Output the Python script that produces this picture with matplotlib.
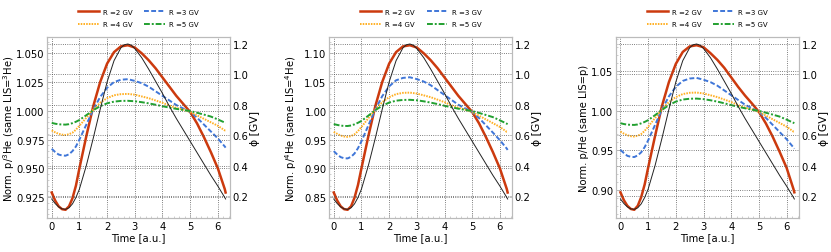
import numpy as np
from matplotlib import pyplot as plt

# time grid [a.u.]
t = [0.0, 0.125, 0.25, 0.375, 0.5, 0.625, 0.75, 0.875, 1.0, 1.25, 1.5, 1.75,
     2.0, 2.25, 2.5, 2.75, 3.0, 3.25, 3.5, 3.75, 4.0, 4.25, 4.5, 4.75, 5.0,
     5.25, 5.5, 5.75, 6.0, 6.25, 6.28]

# modulation potential (right axis, same in all panels)
t_phi = [0.0, 0.125, 0.25, 0.375, 0.5, 0.625, 0.75, 0.875, 1.0, 1.25, 1.5,
         1.75, 2.0, 2.25, 2.5, 2.625, 2.75, 2.875, 3.0, 3.25, 3.5, 3.75, 4.0,
         4.25, 4.5, 4.75, 5.0, 5.25, 5.5, 5.75, 6.0, 6.25, 6.28]
phi = [0.18, 0.15, 0.128, 0.115, 0.112, 0.122, 0.148, 0.19, 0.245, 0.40,
       0.58, 0.77, 0.95, 1.09, 1.175, 1.195, 1.20, 1.192, 1.17, 1.11, 1.035,
       0.955, 0.875, 0.79, 0.71, 0.635, 0.56, 0.485, 0.41, 0.335, 0.265,
       0.19, 0.18]

# p/3He
he3_r2 = [0.929, 0.922, 0.917, 0.9145, 0.914, 0.917, 0.924, 0.935, 0.950,
          0.978, 1.004, 1.025, 1.041, 1.051, 1.056, 1.057, 1.055, 1.050,
          1.044, 1.037, 1.029, 1.021, 1.013, 1.006, 0.999, 0.989, 0.977,
          0.964, 0.950, 0.932, 0.929]
he3_r3 = [0.967, 0.9642, 0.962, 0.9612, 0.961, 0.9622, 0.965, 0.969, 0.975,
          0.988, 1.001, 1.012, 1.020, 1.025, 1.027, 1.0275, 1.026, 1.024,
          1.021, 1.017, 1.013, 1.009, 1.005, 1.002, 0.999, 0.994, 0.988,
          0.982, 0.976, 0.969, 0.968]
he3_r4 = [0.983, 0.9813, 0.980, 0.9793, 0.979, 0.9797, 0.981, 0.9836, 0.987,
          0.994, 1.001, 1.007, 1.011, 1.0135, 1.0145, 1.0147, 1.014, 1.0125,
          1.011, 1.009, 1.007, 1.0045, 1.0025, 1.001, 0.999, 0.996, 0.993,
          0.990, 0.987, 0.983, 0.983]
he3_r5 = [0.9895, 0.9888, 0.9883, 0.9881, 0.988, 0.9884, 0.9893, 0.9905,
          0.992, 0.9962, 1.0005, 1.004, 1.0065, 1.008, 1.0086, 1.0087,
          1.0083, 1.0075, 1.0065, 1.0053, 1.004, 1.0028, 1.0017, 1.0007,
          0.9998, 0.9983, 0.9967, 0.995, 0.9925, 0.9898, 0.9895]

# p/4He
he4_r2 = [0.858, 0.844, 0.834, 0.829, 0.828, 0.834, 0.849, 0.871, 0.900,
          0.956, 1.008, 1.050, 1.082, 1.102, 1.112, 1.114, 1.110, 1.100,
          1.088, 1.074, 1.058, 1.042, 1.026, 1.012, 0.998, 0.978, 0.954,
          0.928, 0.900, 0.864, 0.858]
he4_r3 = [0.930, 0.924, 0.9195, 0.9175, 0.9173, 0.920, 0.9258, 0.935, 0.947,
          0.9746, 1.002, 1.0254, 1.0424, 1.053, 1.0572, 1.0583, 1.0551,
          1.0509, 1.0445, 1.036, 1.0276, 1.019, 1.0106, 1.0042, 0.998,
          0.9873, 0.9746, 0.962, 0.949, 0.9343, 0.932]
he4_r4 = [0.9634, 0.960, 0.957, 0.9554, 0.9548, 0.9561, 0.9591, 0.9647,
          0.972, 0.9871, 1.0022, 1.015, 1.0237, 1.029, 1.0312, 1.0316, 1.030,
          1.0269, 1.0237, 1.0194, 1.015, 1.0097, 1.0054, 1.0022, 0.9978,
          0.9914, 0.985, 0.9785, 0.972, 0.9634, 0.9634]
he4_r5 = [0.9769, 0.9755, 0.9743, 0.9737, 0.9736, 0.9745, 0.9765, 0.9792,
          0.9824, 0.9916, 1.0011, 1.0088, 1.0143, 1.0176, 1.0189, 1.0191,
          1.0183, 1.0165, 1.0143, 1.0117, 1.0088, 1.0062, 1.0037, 1.0015,
          0.9996, 0.9963, 0.9927, 0.989, 0.9835, 0.9776, 0.9769]

# p/He
phe_r2 = [0.897, 0.887, 0.880, 0.876, 0.875, 0.880, 0.891, 0.907, 0.928,
          0.968, 1.006, 1.036, 1.059, 1.074, 1.081, 1.0825, 1.080, 1.0725,
          1.064, 1.054, 1.042, 1.030, 1.019, 1.009, 0.9985, 0.984, 0.967,
          0.948, 0.928, 0.901, 0.897]
phe_r3 = [0.9505, 0.9465, 0.943, 0.9418, 0.9415, 0.9436, 0.9475, 0.954,
          0.9625, 0.982, 1.0015, 1.018, 1.030, 1.0375, 1.0405, 1.0413, 1.039,
          1.036, 1.0315, 1.0255, 1.0195, 1.0135, 1.0075, 1.003, 0.9985,
          0.991, 0.982, 0.973, 0.964, 0.9535, 0.952]
phe_r4 = [0.9736, 0.971, 0.969, 0.9678, 0.9674, 0.9684, 0.9705, 0.9745,
          0.9798, 0.9907, 1.0016, 1.0109, 1.0171, 1.0209, 1.0225, 1.0228,
          1.0217, 1.0194, 1.0171, 1.014, 1.0109, 1.007, 1.0039, 1.0016,
          0.9984, 0.9938, 0.9891, 0.9845, 0.9798, 0.9736, 0.9736]
phe_r5 = [0.9842, 0.9831, 0.9824, 0.9821, 0.982, 0.9826, 0.984, 0.9858,
          0.988, 0.9943, 1.0009, 1.007, 1.0114, 1.014, 1.015, 1.0152, 1.0145,
          1.0131, 1.0114, 1.0093, 1.007, 1.0049, 1.003, 1.0012, 0.9997,
          0.9974, 0.995, 0.9925, 0.9887, 0.9847, 0.9842]

rigidities = [2, 3, 4, 5]
styles = [dict(color='#cc3a0e', ls='-', lw=1.8),
          dict(color='#3f76d8', ls=(0, (2.5, 1.2)), lw=1.4),
          dict(color='#ffb024', ls=(0, (0.8, 0.6)), lw=1.4),
          dict(color='#22a030', ls=(0, (3, 1, 1, 1)), lw=1.4)]

panels = [
    ('Norm. p/$^3$He (same LIS=$^3$He)', [he3_r2, he3_r3, he3_r4, he3_r5],
     np.arange(0.925, 1.051, 0.025), '%.3f'),
    ('Norm. p/$^4$He (same LIS=$^4$He)', [he4_r2, he4_r3, he4_r4, he4_r5],
     np.arange(0.85, 1.101, 0.05), '%.2f'),
    ('Norm. p/He (same LIS=p)', [phe_r2, phe_r3, phe_r4, phe_r5],
     np.arange(0.90, 1.051, 0.05), '%.2f'),
]
lefts = [0.0569, 0.3963, 0.7413]
# y label position (right edge of the rotated text, axes coords)
label_x = [-0.168, -0.165, -0.150]

plt.rcParams['font.size'] = 7.2

fig = plt.figure(figsize=(8.31, 2.53), dpi=100)

for left, lx, (ylabel, series, yticks, fmt) in zip(lefts, label_x, panels):
    ax = fig.add_axes([left, 0.1344, 0.2199, 0.7154])
    ax2 = ax.twinx()
    lines = []
    for r, vals, st in zip(rigidities, series, styles):
        ln, = ax.plot(t, vals, label=f'R ={r} GV', **st)
        lines.append(ln)
    ax2.plot(t_phi, phi, color='#222222', lw=0.7)

    ax.set_xlim(-0.16, 6.44)
    ax.set_xticks(range(7))
    ax.set_yticks(yticks)
    ax.set_yticklabels([fmt % v for v in yticks])
    ax2.set_yticks([0.2, 0.4, 0.6, 0.8, 1.0, 1.2])
    ax2.set_ylim(0.055, 1.246)

    ax.set_xlabel('Time [a.u.]', labelpad=1)
    ax.set_ylabel(ylabel)
    ax.yaxis.set_label_coords(lx, 0.5)
    ax2.set_ylabel('ϕ [GV]', labelpad=1, fontsize=7.8)

    for a in (ax, ax2):
        a.grid(True, ls=':', lw=0.6, color='#555555')
        for s in a.spines.values():
            s.set_color('#bbbbbb')
    ax2.grid(False, axis='x')

    # faint inward ticks on the main axes, none on the phi axis
    ax.minorticks_on()
    ax.tick_params(which='both', direction='in', color='#aaaaaa', pad=2)
    ax.tick_params(which='major', length=3, width=0.5)
    ax.tick_params(which='minor', length=1.5, width=0.4)
    ax2.tick_params(length=0, pad=2)

    order = [0, 2, 1, 3]
    ax.legend([lines[i] for i in order], [lines[i].get_label() for i in order],
              ncol=2, loc='center', bbox_to_anchor=(0.5, 1.105), frameon=False,
              fontsize=5, handlelength=3.0, handletextpad=0.6,
              columnspacing=1.7, labelspacing=0.9)

fig.savefig('out.png', dpi=100)
